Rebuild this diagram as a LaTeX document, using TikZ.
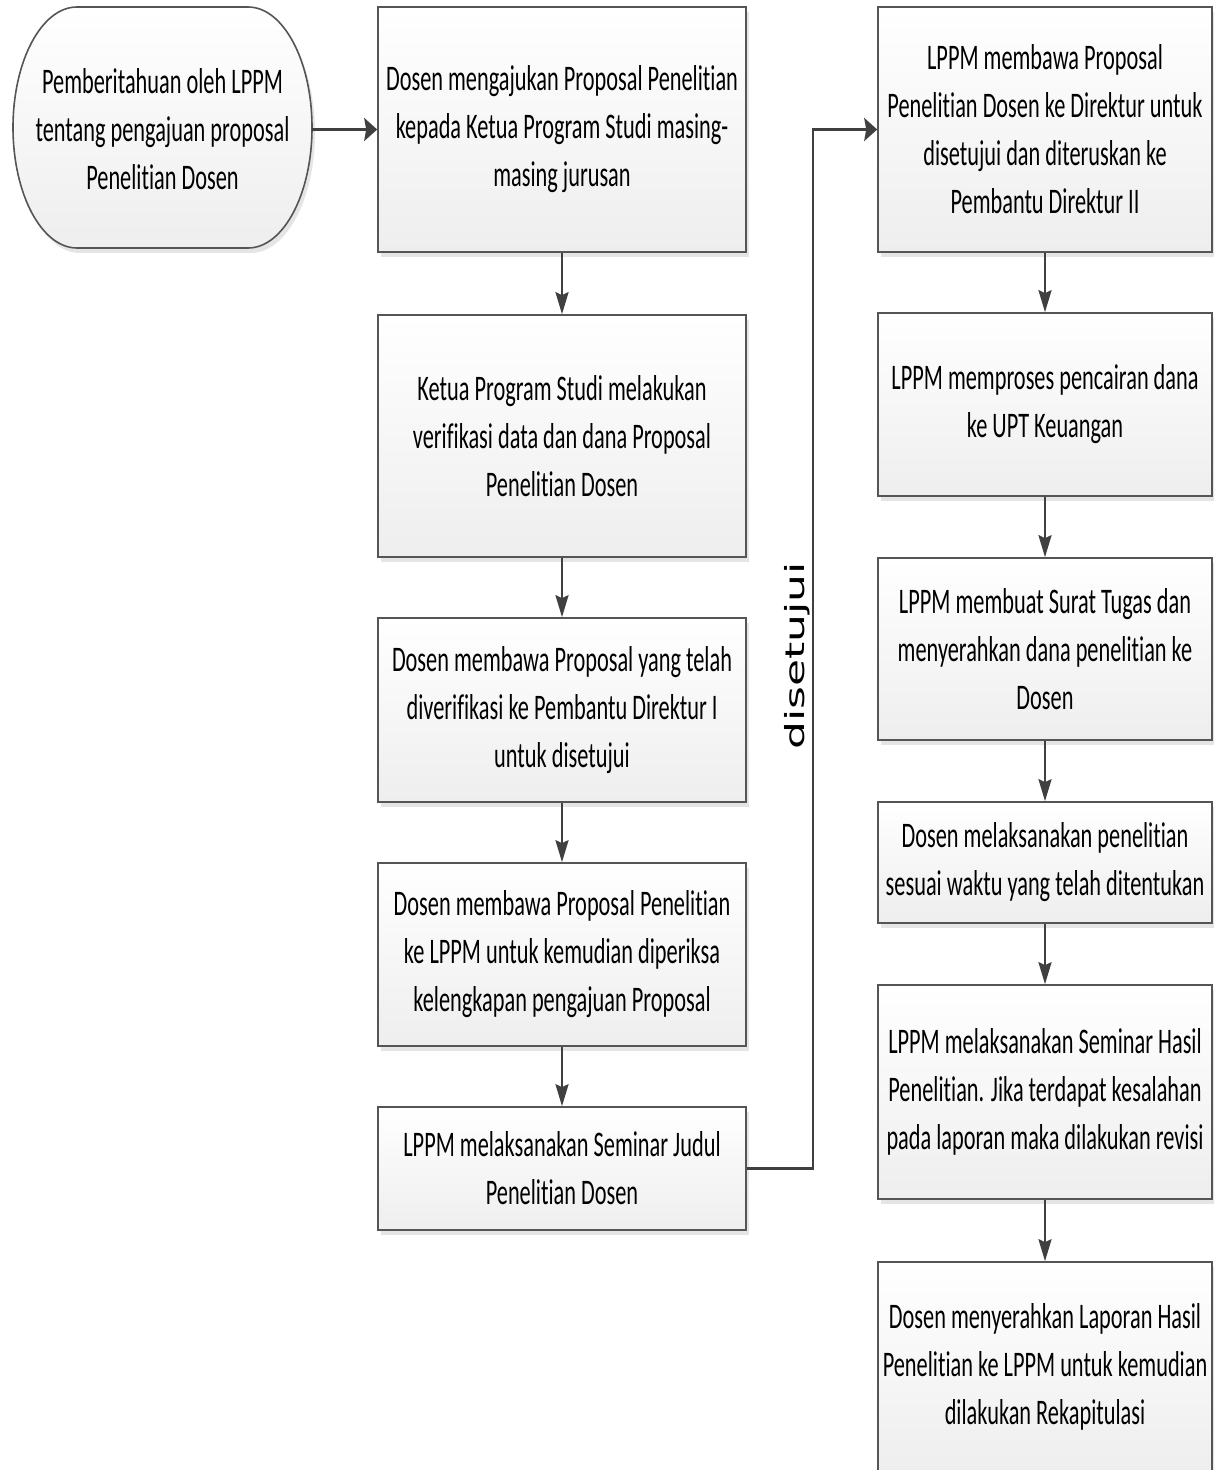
\documentclass[tikz,border=0pt]{standalone}
\usepackage{fontspec}
\usepackage{tikz}
\usetikzlibrary{arrows.meta,shadows}
\newfontfamily\kotakfont[FakeStretch=0.62, Ligatures={NoCommon,NoContextual,NoRequired}]{Carlito}
\newfontfamily\labelfont{DejaVu Sans}
\definecolor{garis}{RGB}{85,85,85}
\definecolor{panah}{RGB}{64,64,64}
\definecolor{bawah}{RGB}{238,238,238}

\tikzset{
  bayang/.style={drop shadow={shadow xshift=1.5pt, shadow yshift=-2.5pt, fill=black!10, opacity=1}},
  isian/.style={draw=garis, line width=0.8pt, top color=white, bottom color=bawah, bayang},
  teks/.style={align=center, inner sep=0pt, font=\kotakfont\fontsize{18pt}{24pt}\selectfont},
  tengah/.style={isian, teks, minimum width=184pt},
  kanan/.style={isian, teks, minimum width=167pt},
  varrow/.style={draw=panah, line width=1.3pt, -{Stealth[length=11pt,width=6.5pt,inset=1.5pt]}},
  harrow/.style={draw=panah, line width=1.3pt, -{Stealth[length=6.5pt,width=11.5pt,inset=1pt]}},
}

\begin{document}
\begin{tikzpicture}[x=0.5pt, y=-0.5pt]
  \clip (0,0) rectangle (1214,1470);
  % Terminator awal
  \path[isian] (77,7) -- (248,7)
    arc[start angle=90, end angle=-90, x radius=32pt, y radius=60.25pt]
    -- (77,248)
    arc[start angle=270, end angle=90, x radius=32pt, y radius=60.25pt] -- cycle;
  \node[teks, minimum width=149.5pt, minimum height=120pt] (mulai) at (162.5,129.5)
    {Pemberitahuan oleh LPPM\\ tentang pengajuan proposal\\ Penelitian Dosen};
  % Kolom tengah
  \node[tengah, minimum height=122.5pt] (ajukan) at (562,129.5)
    {Dosen mengajukan Proposal Penelitian\\ kepada Ketua Program Studi masing-\\ masing jurusan};
  \node[tengah, minimum height=121pt] (verifikasi) at (562,436)
    {Ketua Program Studi melakukan\\ verifikasi data dan dana Proposal\\ Penelitian Dosen};
  \node[tengah, minimum height=92pt] (pudir) at (562,710)
    {Dosen membawa Proposal yang telah\\ diverifikasi ke Pembantu Direktur I\\ untuk disetujui};
  \node[tengah, minimum height=91.5pt] (periksa) at (562,954.5)
    {Dosen membawa Proposal Penelitian\\ ke LPPM untuk kemudian diperiksa\\ kelengkapan pengajuan Proposal};
  \node[tengah, minimum height=61.5pt] (semjudul) at (562,1168.5)
    {LPPM melaksanakan Seminar Judul\\ Penelitian Dosen};
  % Kolom kanan
  \node[kanan, minimum height=122.5pt] (direktur) at (1045,129.5)
    {LPPM membawa Proposal\\ Penelitian Dosen ke Direktur untuk\\ disetujui dan diteruskan ke\\ Pembantu Direktur II};
  \node[kanan, minimum height=91.5pt] (pencairan) at (1045,404.5)
    {LPPM memproses pencairan dana\\ ke UPT Keuangan};
  \node[kanan, minimum height=91pt] (surat) at (1045,649)
    {LPPM membuat Surat Tugas dan\\ menyerahkan dana penelitian ke\\ Dosen};
  \node[kanan, minimum height=60.5pt] (laksana) at (1045,862.5)
    {Dosen melaksanakan penelitian\\ sesuai waktu yang telah ditentukan};
  \node[kanan, minimum height=107pt] (semhasil) at (1045,1092)
    {LPPM melaksanakan Seminar Hasil\\ Penelitian. Jika terdapat kesalahan\\ pada laporan maka dilakukan revisi};
  \node[kanan, minimum height=105pt] (laporan) at (1045,1367)
    {Dosen menyerahkan Laporan Hasil\\ Penelitian ke LPPM untuk kemudian\\ dilakukan Rekapitulasi};
  % Panah
  \draw[harrow] (mulai.east) -- (ajukan.west);
  \foreach \a/\b in {ajukan/verifikasi, verifikasi/pudir, pudir/periksa, periksa/semjudul,
    direktur/pencairan, pencairan/surat, surat/laksana, laksana/semhasil, semhasil/laporan}
    \draw[varrow] (\a) -- (\b);
  \draw[harrow] (semjudul.east) -- ++(66,0) |- (direktur.west);
  \node[rotate=90, inner sep=0pt, font=\labelfont\fontsize{22pt}{26pt}\selectfont] (setuju) at (797,656)
    {\scalebox{1}[0.6]{disetujui}};
\end{tikzpicture}
\end{document}
